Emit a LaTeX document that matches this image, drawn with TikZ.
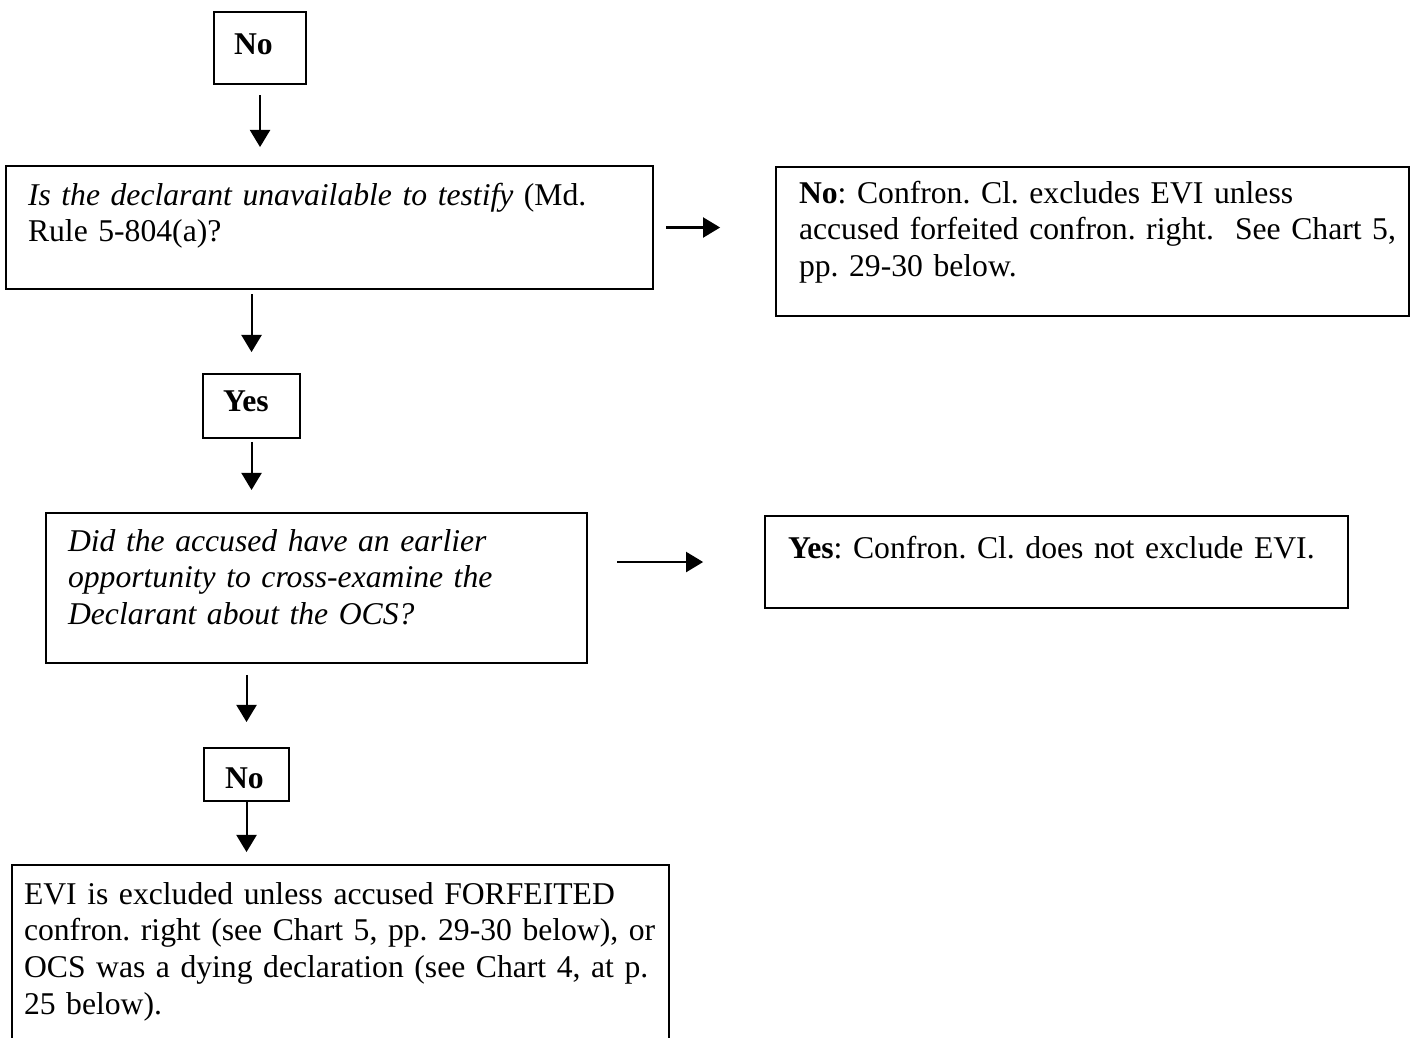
\documentclass[tikz,border=0pt]{standalone}
\usepackage{fontspec}
\setmainfont{Liberation Serif}
\usetikzlibrary{arrows.meta}

\begin{document}
\begin{tikzpicture}[x=0.368pt,y=-0.368pt,
        box/.style = {draw, line width=0.75pt, anchor=north west, align=left, inner sep=0pt,
                      font={\fontsize{11.65pt}{13.6pt}\selectfont\frenchspacing}},
        pad/.style = {execute at begin node={\leftskip=#1}},
        arrow/.style = {line width=0.75pt, -{Triangle[width=7.4pt,length=6.3pt]}}]
        \clip (0,0) rectangle (1411,1038);
        \node[box,pad=7.36pt,text width=33.86pt,text height=15.46pt,text depth=11.04pt] (no1) at (213,11) {\textbf{No}};
        \node[box,pad=8.1pt,text width=238.1pt,text height=14.35pt,text depth=30.91pt] (q1) at (5,165)
            {\textit{Is the declarant unavailable to testify} (Md.\\ Rule 5-804(a)?};
        \node[box,pad=8.46pt,text width=232.94pt,text height=13.25pt,text depth=41.58pt] (r1) at (775,166)
            {\textbf{No}: Confron. Cl. excludes EVI unless\\ accused forfeited confron. right.\ \ See Chart 5,\\ pp. 29-30 below.};
        \node[box,pad=7.36pt,text width=35.7pt,text height=13.62pt,text depth=9.94pt] (yes) at (202,373) {\textbf{Yes}};
        \node[box,pad=8.1pt,text width=199.1pt,text height=13.98pt,text depth=41.22pt] (q2) at (45,512)
            {\textit{Did the accused have an earlier}\\ \textit{opportunity to cross-examine the}\\ \textit{Declarant about the OCS?}};
        \node[box,pad=8.46pt,text width=214.5pt,text height=15.46pt,text depth=18.4pt] (r2) at (764,515)
            {\textbf{Yes}: Confron. Cl. does not exclude EVI.};
        \node[box,pad=7.73pt,text width=31.28pt,text height=14.72pt,text depth=4.78pt] (no2) at (203,747) {\textbf{No}};
        \node[box,pad=4.42pt,text width=241.8pt,text height=14.35pt,text depth=54.1pt] (fin) at (11,864)
            {EVI is excluded unless accused FORFEITED\\ confron. right (see Chart 5, pp. 29-30 below), or\\ OCS was a dying declaration (see Chart 4, at p.\\ 25 below).};
        \draw[arrow,shorten <=3.7pt,shorten >=6.6pt] (no1) -- (no1 |- q1.north);
        \draw[arrow,shorten <=1.5pt,shorten >=7.7pt] (yes |- q1.south) -- (yes);
        \draw[arrow,shorten <=1pt,shorten >=8.1pt] (yes) -- (yes |- q2.north);
        \draw[arrow,shorten <=4pt,shorten >=9.2pt] (no2 |- q2.south) -- (no2);
        \draw[arrow,shorten >=4.4pt] (no2) -- (no2 |- fin.north);
        \draw[arrow,shorten <=4.4pt,shorten >=20.2pt] (q1.east) -- (q1.east -| r1.west);
        \draw[arrow,shorten <=10.7pt,shorten >=22.4pt] (r2.west -| q2.east) -- (r2.west);
\end{tikzpicture}
\end{document}
